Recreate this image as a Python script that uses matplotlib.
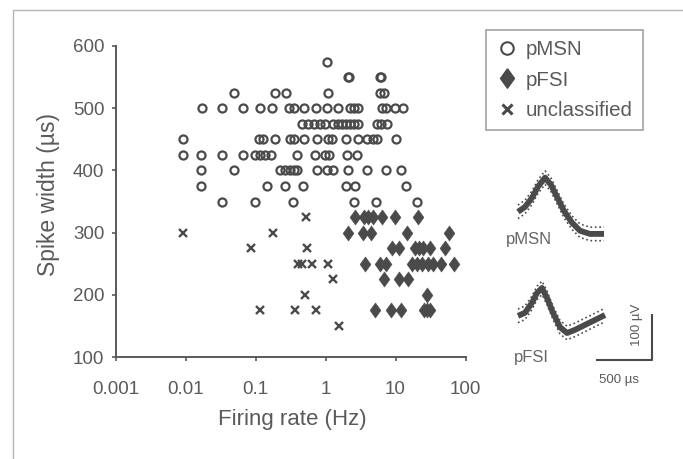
import matplotlib
matplotlib.use('Agg')
import matplotlib.pyplot as plt
from matplotlib.lines import Line2D
from matplotlib.patches import Rectangle

plt.rcParams['font.family'] = ['Liberation Sans', 'DejaVu Sans']

# firing rate (Hz) / spike width (us), read row by row
msn_rate = [1.05,
            2.1, 2.2, 6.0, 6.2,
            0.049, 0.19, 0.27, 1.09, 6.0, 6.85,
            0.017, 0.033, 0.066, 0.116, 0.17, 0.30, 0.355, 0.49, 0.73, 1.05, 1.5, 2.25, 2.55, 2.9, 6.4, 7.3, 9.8, 12.8,
            0.46, 0.56, 0.68, 0.83, 0.98, 1.28, 1.51, 1.72, 1.96, 2.24, 2.55, 2.91, 5.44, 6.2, 7.56,
            0.0092, 0.112, 0.128, 0.19, 0.31, 0.355, 0.49, 0.76, 1.08, 1.24, 1.96, 2.91, 3.92, 4.77, 5.44, 10.2,
            0.0092, 0.0166, 0.033, 0.066, 0.098, 0.116, 0.137, 0.166, 0.39, 0.71, 0.98, 1.12, 2.03, 2.82,
            0.0166, 0.049, 0.224, 0.264, 0.31, 0.355, 0.39, 0.76, 1.05, 1.28, 2.1, 3.92, 7.31, 12.0,
            0.0166, 0.146, 0.264, 0.477, 1.96, 2.64, 14.1,
            0.033, 0.098, 0.343, 2.55, 5.26, 20.3]
msn_width = [575,
             550, 550, 550, 550,
             525, 525, 525, 525, 525, 525,
             500, 500, 500, 500, 500, 500, 500, 500, 500, 500, 500, 500, 500, 500, 500, 500, 500, 500,
             475, 475, 475, 475, 475, 475, 475, 475, 475, 475, 475, 475, 475, 475, 475,
             450, 450, 450, 450, 450, 450, 450, 450, 450, 450, 450, 450, 450, 450, 450, 450,
             425, 425, 425, 425, 425, 425, 425, 425, 425, 425, 425, 425, 425, 425,
             400, 400, 400, 400, 400, 400, 400, 400, 400, 400, 400, 400, 400, 400,
             375, 375, 375, 375, 375, 375, 375,
             350, 350, 350, 350, 350, 350]

fsi_rate = [2.64, 3.55, 4.05, 4.77, 6.41, 9.84, 20.9,
            2.10, 3.43, 4.47, 14.6, 58.1,
            8.91, 11.2, 19.0, 21.7, 24.7, 31.1, 50.9,
            3.67, 6.0, 7.31, 17.2, 20.3, 23.9, 29.1, 34.4, 44.7, 68.5,
            6.85, 11.2, 15.1,
            28.2,
            5.09, 8.63, 12.0, 25.5, 28.2, 31.1]
fsi_width = [325, 325, 325, 325, 325, 325, 325,
             300, 300, 300, 300, 300,
             275, 275, 275, 275, 275, 275, 275,
             250, 250, 250, 250, 250, 250, 250, 250, 250, 250,
             225, 225, 225,
             200,
             175, 175, 175, 175, 175, 175]

unc_rate = [0.53, 0.0091, 0.18, 0.085, 0.54, 0.41, 0.455, 0.64, 1.09,
            1.28, 0.51, 0.116, 0.367, 0.73, 1.56]
unc_width = [325, 300, 300, 275, 275, 250, 250, 250, 250,
             225, 200, 175, 175, 175, 150]

# mean waveforms for the inset (time us, voltage uV)
msn_t = [118, 182, 245, 300, 364, 418, 473, 536, 609, 682, 773, 900]
msn_v = [340, 351, 371, 396, 416, 400, 373, 342, 316, 298, 291, 291]
fsi_t = [118, 182, 245, 291, 336, 382, 436, 500, 564, 636, 727, 818, 909]
fsi_v = [109, 116, 138, 160, 171, 149, 116, 84, 71, 78, 89, 100, 111]
wave_sd = 15

xticks = [0.001, 0.01, 0.1, 1, 10, 100]
xticklabels = ['0.001', '0.01', '0.1', '1', '10', '100']
yticks = [100, 200, 300, 400, 500, 600]

grey = '#4a4a4a'
txt = '#5a5a5a'
diamond = [(0, 1), (0.72, 0), (0, -1), (-0.72, 0), (0, 1)]

fig = plt.figure(figsize=(6.83, 4.59), dpi=100)
fig.patches.append(Rectangle((13/683, -0.1), 1.0, 1.1 - 10/459, transform=fig.transFigure,
                             fill=False, edgecolor='#b5b5b5', lw=1.0))

ax = fig.add_axes([115.5/683, 1 - 357/459, 350/683, 311/459])
ax.plot(msn_rate, msn_width, 'o', ls='none', ms=5.8, mfc='none', mec=grey, mew=1.6)
ax.plot(fsi_rate, fsi_width, marker=diamond, ls='none', ms=11, mfc=grey, mec=grey, mew=0.3)
ax.plot(unc_rate, unc_width, 'x', ls='none', ms=5.8, mec=grey, mew=1.7)

ax.set_xscale('log')
ax.set_xlim(0.001, 100)
ax.set_ylim(100, 600)
ax.set_xticks(xticks)
ax.set_xticklabels(xticklabels)
ax.set_yticks(yticks)
ax.minorticks_off()
for s in ['top', 'right']:
    ax.spines[s].set_visible(False)
for s in ['left', 'bottom']:
    ax.spines[s].set_color('#5a5a5a')
    ax.spines[s].set_linewidth(1.4)
ax.tick_params(axis='both', direction='out', length=3, width=1.2, color='#5a5a5a',
               labelsize=13.5, labelcolor=txt)
ax.tick_params(axis='x', pad=14)
ax.tick_params(axis='y', pad=5)
ax.set_xlabel('Firing rate (Hz)', fontsize=16, color=txt)
ax.set_ylabel('Spike width (µs)', fontsize=16.5, color=txt)
ax.xaxis.set_label_coords(0.504, -0.167)
ax.yaxis.set_label_coords(-0.16, 0.521)

handles = [Line2D([], [], marker='o', ls='none', ms=9, mfc='none', mec=grey, mew=1.5),
           Line2D([], [], marker=diamond, ls='none', ms=14, mfc=grey, mec=grey),
           Line2D([], [], marker='x', ls='none', ms=6.5, mec=grey, mew=2.2)]
leg = ax.legend(handles, ['pMSN', 'pFSI', 'unclassified'], loc='upper left',
                bbox_to_anchor=(486/683, 1 - 30/459), bbox_transform=fig.transFigure,
                fontsize=14.8, frameon=True, fancybox=False, labelspacing=0.55,
                handlelength=1.0, handletextpad=0.45, borderpad=0.5, borderaxespad=0)
leg.get_frame().set_edgecolor('#8a8a8a')
leg.get_frame().set_linewidth(1.2)
for t in leg.get_texts():
    t.set_color(txt)

# waveform inset
ins = fig.add_axes([505/683, 1 - 365/459, 155/683, 200/459])
ins.set_xlim(0, 1409)
ins.set_ylim(0, 444)
ins.axis('off')
for tt, vv in [(msn_t, msn_v), (fsi_t, fsi_v)]:
    ins.plot(tt, [v + wave_sd for v in vv], ls=':', color=grey, lw=1.2)
    ins.plot(tt, [v - wave_sd for v in vv], ls=':', color=grey, lw=1.2)
    ins.plot(tt, vv, '-', color=grey, lw=4.2, solid_capstyle='butt')
ins.text(218, 278, 'pMSN', fontsize=12, color='#666666', ha='center', va='center')
ins.text(236, 16, 'pFSI', fontsize=12, color='#666666', ha='center', va='center', clip_on=False)
ins.plot([836, 1336, 1336], [11, 11, 111], '-', color=grey, lw=1.5, clip_on=False)
ins.text(1036, -33, '500 µs', fontsize=9.5, color=txt, ha='center', va='center', clip_on=False)
ins.text(1200, 89, '100 µV', fontsize=9.5, color=txt, ha='center', va='center', rotation=90)

fig.savefig('out.png', dpi=100)
